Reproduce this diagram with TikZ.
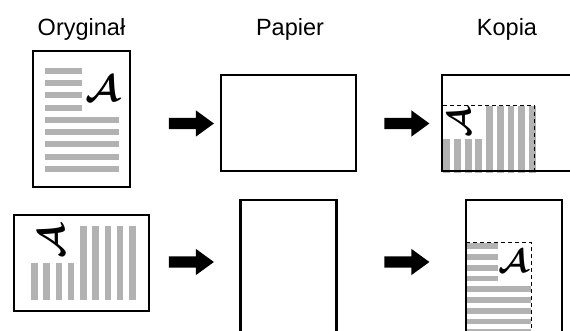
\documentclass[tikz,border=0pt]{standalone}
\usepackage{amsmath}
\usepackage{fontspec}
\setmainfont{Liberation Sans}
\usetikzlibrary{shapes.arrows}
\definecolor{barg}{RGB}{178,178,178}
\tikzset{
  page/.style={draw=black, line width=2.2pt, inner sep=0pt},
  bar/.style={fill=barg, draw=none},
  cutline/.style={draw=black, line width=1pt, dash pattern=on 4pt off 3pt},
  blockarrow/.style={single arrow, fill=black, draw=none, inner xsep=0pt, inner ysep=5.5pt,
    minimum height=45pt, single arrow head extend=7.5pt, single arrow tip angle=72,
    single arrow head indent=0pt},
  lbl/.style={font=\fontsize{23.5}{27}\selectfont, anchor=base, inner sep=0pt},
  glyph/.style={font=\fontsize{24.88}{26}\selectfont, inner sep=0pt}
}
\newcommand{\scriptA}{$\boldsymbol{\mathcal{A}}$}
\begin{document}
\begin{tikzpicture}[x=1pt,y=-1pt]
\useasboundingbox (0,0) rectangle (570,331);
\clip (0,0) rectangle (570,331);
% labels
\node[lbl] (lorig) at (81.5,36) {Oryginał};
\node[lbl] (lpap) at (290,36) {Papier};
\node[lbl] (lkop) at (507,36) {Kopia};
% ---- bars: top-left original (portrait)
\foreach \i in {0,...,3} \fill[bar] (45,{68+12.25*\i}) rectangle (82,{74+12.25*\i});
\foreach \i in {4,...,8} \fill[bar] (45,{68+12.25*\i}) rectangle (119,{74+12.25*\i});
% ---- bars: bottom-left original (landscape)
\foreach \i in {0,...,3} \fill[bar] ({31+12.25*\i},263) rectangle ({37.5+12.25*\i},299.5);
\foreach \i in {4,...,8} \fill[bar] ({31+12.25*\i},226) rectangle ({37.5+12.25*\i},299.5);
% ---- bars: top-right copy
\foreach \i in {0,...,3} \fill[bar] ({443.3+10.7*\i},139) rectangle ({450.1+10.7*\i},173);
\foreach \i in {4,...,8} \fill[bar] ({443.3+10.7*\i},105.7) rectangle ({450.1+10.7*\i},173);
% ---- bars: bottom-right copy
\foreach \i in {0,...,3} \fill[bar] (466,{243.3+10.75*\i}) rectangle (497.5,{249.1+10.75*\i});
\foreach \i in {4,...,8} \fill[bar] (466,{243.3+10.75*\i}) rectangle (530.7,{249.1+10.75*\i});
% dashed image outlines
\draw[cutline] (443,105.7) -- (534.5,105.7) -- (534.5,173);
\draw[cutline] (466,242.3) -- (531,242.3) -- (531,340);
% letters
\node[glyph, scale=1.5] (a1) at (103,89) {\scriptA};
\node[glyph, rotate=90, scale=1.5] (a2) at (52,241) {\scriptA};
\node[glyph, rotate=90, scale=1.32] (a3) at (459,122) {\scriptA};
\node[glyph, scale=1.32] (a4) at (514,261) {\scriptA};
% pages
\node[page, minimum width=97pt, minimum height=136pt] (orig1) at (81.5,119) {};
\node[page, minimum width=135pt, minimum height=96pt] (pap1) at (288.5,123) {};
\node[page, minimum width=135pt, minimum height=96pt] (cop1) at (509.5,123) {};
\node[page, minimum width=135pt, minimum height=96pt] (orig2) at (81.5,263) {};
\node[page, minimum width=96pt, minimum height=135pt] (pap2) at (288.5,267.5) {};
\node[page, minimum width=96pt, minimum height=135pt] (cop2) at (514,267.5) {};
% arrows
\node[blockarrow] (ar1) at (187.5,123.5) {};
\node[blockarrow] (ar2) at (403,123.5) {};
\node[blockarrow] (ar3) at (187.5,262) {};
\node[blockarrow] (ar4) at (403,262) {};
\end{tikzpicture}
\end{document}
